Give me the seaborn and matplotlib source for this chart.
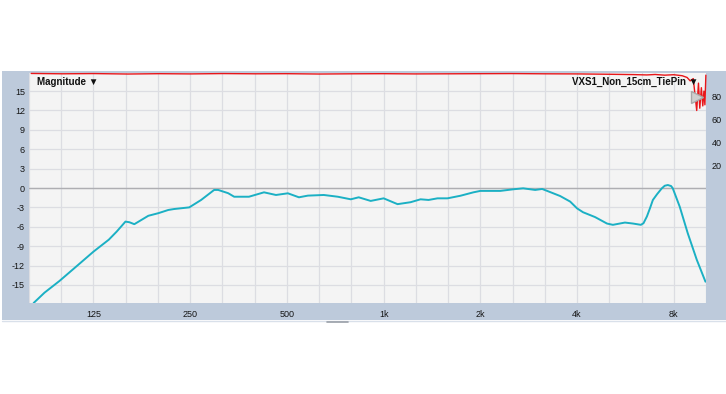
import numpy as np
import pandas as pd
import matplotlib
matplotlib.use("Agg")
import matplotlib.pyplot as plt
from matplotlib.lines import Line2D
from matplotlib.ticker import FixedLocator, NullFormatter, FixedFormatter
import seaborn as sns

# ---- data ----
freq_hz = [81.4, 88.0, 97.9, 112.0, 125.0, 139.5, 147.6, 157.2, 161.7, 167.5,
           185.2, 198.9, 213.7, 223.0, 248.3, 270.4, 296.8, 305.5, 328.1, 342.6,
           380.9, 424.3, 462.3, 503.5, 545.1, 581.1, 651.2, 720.0, 790.2, 836.5,
           911.4, 1000, 1105, 1213, 1303, 1380, 1471, 1580, 1734, 1903,
           2000, 2307, 2532, 2719, 2963, 3115, 3229, 3543, 3807, 4000,
           4175, 4551, 4956, 5172, 5638, 5970, 6320, 6440, 6600, 6750, 6888, 7100,
           7344, 7500, 7667, 7850, 7944, 8350, 8843, 9433, 10040]
magnitude_db = [-17.8, -16.2, -14.4, -11.9, -9.85, -8.0, -6.75, -5.2, -5.3, -5.6,
                -4.3, -3.9, -3.4, -3.25, -3.0, -1.85, -0.3, -0.3, -0.8, -1.35,
                -1.35, -0.67, -1.08, -0.82, -1.44, -1.18, -1.08, -1.35, -1.75, -1.44,
                -2.0, -1.6, -2.5, -2.2, -1.75, -1.85, -1.6, -1.6, -1.2, -0.67,
                -0.45, -0.45, -0.2, -0.05, -0.3, -0.15, -0.45, -1.24, -2.1, -3.15,
                -3.75, -4.5, -5.5, -5.7, -5.35, -5.5, -5.7, -5.45, -4.4, -3.1, -1.85, -0.95,
                -0.05, 0.35, 0.46, 0.3, -0.05, -2.9, -7.0, -11.1, -14.5]

coh_freq = [80, 100, 125, 160, 200, 250, 315, 400, 500, 630, 800, 1000, 1250,
            1600, 2000, 2500, 3150, 4000, 5000, 6000, 6600, 7000, 7500, 8000,
            8500, 8800, 9000, 9200, 9430, 9550, 9640, 9750, 9850, 9930, 10000, 10070]
coherence = [100.5, 100.2, 100.4, 100.0, 100.3, 100.1, 100.4, 100.2, 100.3, 100.0,
             100.2, 100.3, 100.1, 100.2, 100.3, 100.4, 100.2, 100.1, 99.8, 99.5,
             99.2, 99.6, 99.0, 99.4, 98.5, 97.0, 94.0, 96.0, 68.0, 92.0,
             70.0, 88.0, 72.0, 85.0, 73.0, 99.0]

x_tick_vals = [125, 250, 500, 1000, 2000, 4000, 8000]
x_tick_labels = ["125", "250", "500", "1k", "2k", "4k", "8k"]
y_tick_vals = [-15, -12, -9, -6, -3, 0, 3, 6, 9, 12, 15]
y2_tick_vals = [20, 40, 60, 80]

df = pd.DataFrame({"freq": freq_hz, "db": magnitude_db})
dfc = pd.DataFrame({"freq": coh_freq, "coh": coherence})

sns.set_style("white")
plt.rcParams["font.family"] = ["Liberation Sans", "DejaVu Sans"]

W, H = 726, 394
fig = plt.figure(figsize=(W / 100, H / 100), dpi=100, facecolor="white")

# app frame (background axes under the plot)
bg = fig.add_axes([2 / W, 1 - 320 / H, 724 / W, 249 / H], zorder=-5)
bg.set_facecolor("#bdcadb")
bg.set_xticks([])
bg.set_yticks([])
for s in bg.spines.values():
    s.set_visible(False)

fig.lines.append(Line2D([2 / W, 1], [1 - 320.5 / H] * 2, transform=fig.transFigure,
                        color="#d9e0ea", lw=1.0))
fig.lines.append(Line2D([327 / W, 348 / W], [1 - 322 / H] * 2, transform=fig.transFigure,
                        color="#9aa0a8", lw=1.2))

x0, x1, y0, y1 = 29, 706, 73, 303
ax = fig.add_axes([x0 / W, 1 - y1 / H, (x1 - x0) / W, (y1 - y0) / H], zorder=1)
ax.set_facecolor("#f4f4f4")
for s in ax.spines.values():
    s.set_visible(False)

ax.set_xscale("log")
ax.set_xlim(125 * 2 ** (-2 / 3), 8000 * 2 ** (1 / 3))
ax.set_ylim(-17.8, 17.8)

third_oct = [125 * 2 ** (k / 3) for k in range(-2, 20)]
ax.xaxis.set_major_locator(FixedLocator(x_tick_vals))
ax.xaxis.set_major_formatter(FixedFormatter(x_tick_labels))
ax.xaxis.set_minor_locator(FixedLocator(third_oct))
ax.xaxis.set_minor_formatter(NullFormatter())
ax.set_yticks(y_tick_vals)
ax.set_yticklabels([str(v) for v in y_tick_vals])
ax.grid(which="both", axis="x", color="#dcdde2", lw=0.9)
ax.grid(which="major", axis="y", color="#dcdde2", lw=0.9)
ax.axhline(0, color="#aeaeb2", lw=1.0, zorder=1)
ax.set_axisbelow(True)
ax.tick_params(axis="both", which="both", length=0, labelsize=6.5, colors="#151515")
ax.tick_params(axis="x", pad=5)
ax.tick_params(axis="y", pad=3)

sns.lineplot(data=df, x="freq", y="db", ax=ax, color="#1bb0c4", lw=1.4, zorder=3)
ax.set_xlabel("")
ax.set_ylabel("")

ax2 = ax.twinx()
ax2.set_ylim(-100.9, 100.9)
for s in ax2.spines.values():
    s.set_visible(False)
sns.lineplot(data=dfc, x="freq", y="coh", ax=ax2, color="#e8161a", lw=1.0,
             zorder=4, clip_on=False)
ax2.set_yticks(y2_tick_vals)
ax2.set_yticklabels([str(v) for v in y2_tick_vals])
ax2.tick_params(axis="y", length=0, labelsize=6.5, colors="#151515", pad=4)
ax2.set_ylabel("")
ax2.set_xlabel("")

# slider handle
ax2.plot([0.986], [80], marker=">", markersize=8, color="#cfcfcf",
         markeredgecolor="#a8a8a8", transform=ax2.get_yaxis_transform(),
         clip_on=False, zorder=6)

fig.text(37 / W, 1 - 82 / H, "Magnitude ▼", fontsize=7, fontweight="bold",
         ha="left", va="center", color="#111111")
fig.text(698 / W, 1 - 82 / H, "VXS1_Non_15cm_TiePin ▼", fontsize=7, fontweight="bold",
         ha="right", va="center", color="#111111")

fig.savefig("out.png", dpi=100, facecolor="white")
